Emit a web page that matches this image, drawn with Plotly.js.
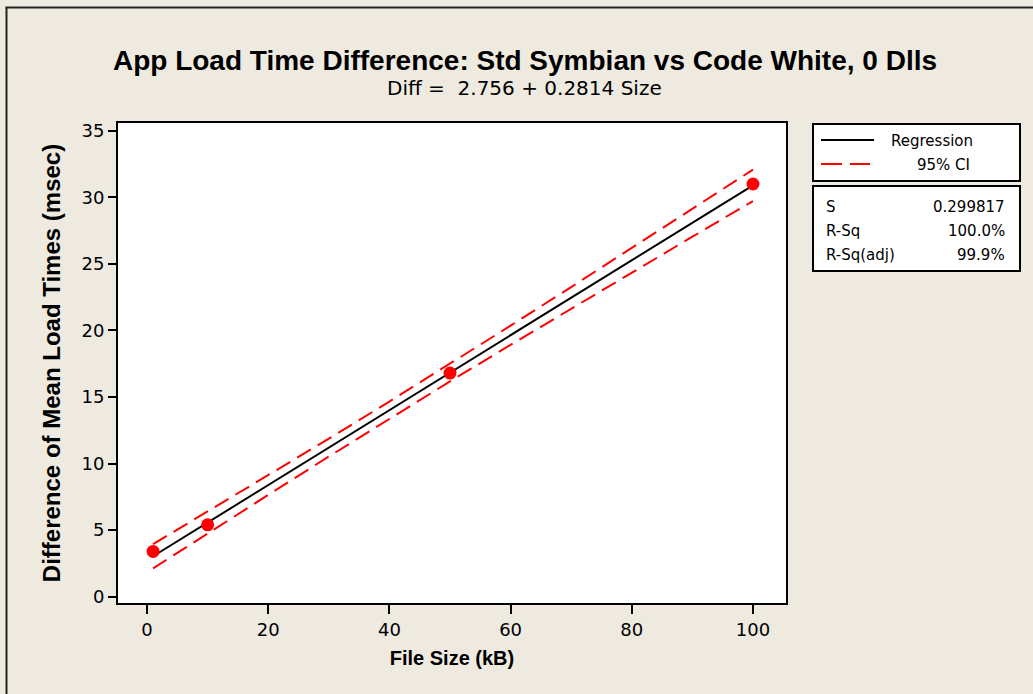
<!DOCTYPE html>
<html>
<head>
<meta charset="utf-8">
<script src="https://cdn.plot.ly/plotly-3.0.1.min.js"></script>
<style>
  html, body { margin: 0; padding: 0; background: #EEEAE0; }
  #chart { width: 1033px; height: 694px; }
</style>
</head>
<body>
<div id="chart"></div>
<script>
// Observed data points
const fileSize = [1, 10, 50, 100];
const loadDiff = [3.4, 5.4, 16.8, 31.0];

// Fitted regression line and 95% CI bands
const fitX  = [1, 10, 20, 30, 40, 50, 60, 70, 80, 90, 100];
const fitY  = [3.04, 5.57, 8.38, 11.20, 14.01, 16.83, 19.64, 22.45, 25.27, 28.08, 30.90];
const ciUp  = [3.95, 6.39, 9.11, 11.87, 14.66, 17.50, 20.36, 23.26, 26.19, 29.12, 32.08];
const ciLo  = [2.13, 4.76, 7.65, 10.53, 13.37, 16.17, 18.92, 21.64, 24.35, 27.04, 29.72];

// Tick labels
const xTicks = [0, 20, 40, 60, 80, 100];
const yTicks = [0, 5, 10, 15, 20, 25, 30, 35];

// Legend + summary box texts
const legendNames = ["Regression", "95% CI"];
const statNames = ["S", "R-Sq", "R-Sq(adj)"];
const statValues = ["0.299817", "100.0%", "99.9%"];

const W = 1033, H = 694;
const L = 118, R = 786, T = 123, B = 603;
const px = v => (v - L) / (R - L);
const py = v => (B - v) / (B - T);

const tickFont = {family: "DejaVu Sans, Tahoma, sans-serif", size: 18, color: "#000"};
const boxFont = {family: "DejaVu Sans, Tahoma, sans-serif", size: 15, color: "#000"};

const traces = [
  {x: fitX, y: ciUp, mode: "lines", line: {color: "#FF0000", width: 2, dash: "16px,8px"}, hoverinfo: "skip", showlegend: false},
  {x: fitX, y: ciLo, mode: "lines", line: {color: "#FF0000", width: 2, dash: "16px,8px"}, hoverinfo: "skip", showlegend: false},
  {x: fitX, y: fitY, mode: "lines", line: {color: "#000000", width: 2}, showlegend: false},
  {x: fileSize, y: loadDiff, mode: "markers", marker: {color: "#FF0000", size: 13}, showlegend: false}
];

const shapes = [
  // outer frame (left + top)
  {type: "line", xref: "paper", yref: "paper", x0: px(6.5), x1: px(6.5), y0: py(7.5), y1: py(700), line: {color: "#222", width: 2}},
  {type: "line", xref: "paper", yref: "paper", x0: px(5.5), x1: px(1040), y0: py(7.5), y1: py(7.5), line: {color: "#222", width: 2}},
  // legend box
  {type: "rect", xref: "paper", yref: "paper", x0: px(813), x1: px(1020), y0: py(124), y1: py(181), fillcolor: "#FFFFFF", line: {color: "#000", width: 2}},
  {type: "line", xref: "paper", yref: "paper", x0: px(821), x1: px(874), y0: py(140), y1: py(140), line: {color: "#000", width: 2}},
  {type: "line", xref: "paper", yref: "paper", x0: px(821), x1: px(870), y0: py(164), y1: py(164), line: {color: "#FF0000", width: 2, dash: "21px,8px"}},
  // stats box
  {type: "rect", xref: "paper", yref: "paper", x0: px(813), x1: px(1020), y0: py(186), y1: py(271), fillcolor: "#FFFFFF", line: {color: "#000", width: 2}}
];

const annotations = [
  {text: "Diff =  2.756 + 0.2814 Size", xref: "paper", yref: "paper", x: px(524), y: py(88), xanchor: "center", yanchor: "middle", showarrow: false,
   font: {family: "DejaVu Sans, Tahoma, sans-serif", size: 20, color: "#000"}},
  {text: legendNames[0], xref: "paper", yref: "paper", x: px(889), y: py(141), xanchor: "left", yanchor: "middle", showarrow: false, font: boxFont},
  {text: legendNames[1], xref: "paper", yref: "paper", x: px(915), y: py(165), xanchor: "left", yanchor: "middle", showarrow: false, font: boxFont}
];
const rowY = [207, 231, 255];
statNames.forEach((n, i) => {
  annotations.push({text: n, xref: "paper", yref: "paper", x: px(824), y: py(rowY[i]), xanchor: "left", yanchor: "middle", showarrow: false, font: boxFont});
  annotations.push({text: statValues[i], xref: "paper", yref: "paper", x: px(1007), y: py(rowY[i]), xanchor: "right", yanchor: "middle", showarrow: false, font: boxFont});
});

const layout = {
  width: W, height: H,
  paper_bgcolor: "#EEEAE0",
  plot_bgcolor: "#FFFFFF",
  margin: {l: L, r: W - R, t: T, b: H - B, pad: 0},
  showlegend: false,
  title: {
    text: "<b>App Load Time Difference: Std Symbian vs Code White, 0 Dlls</b>",
    xref: "container", yref: "container", x: 525 / W, y: 1 - 60 / H, xanchor: "center", yanchor: "middle",
    font: {family: "Liberation Sans, Arial, sans-serif", size: 28, color: "#000"}
  },
  xaxis: {
    range: [-4.79, 105.45], tickvals: xTicks, ticktext: xTicks.map(String),
    ticks: "outside", ticklen: 9, tickwidth: 2, tickcolor: "#000",
    showline: true, linecolor: "#000", linewidth: 2, mirror: true,
    showgrid: false, zeroline: false, tickfont: tickFont,
    title: {text: "<b>File Size (kB)</b>", standoff: 12, font: {family: "Liberation Sans, Arial, sans-serif", size: 20, color: "#000"}}
  },
  yaxis: {
    range: [-0.47, 35.58], tickvals: yTicks, ticktext: yTicks.map(String),
    ticks: "outside", ticklen: 8, tickwidth: 2, tickcolor: "#000",
    showline: true, linecolor: "#000", linewidth: 2, mirror: true,
    showgrid: false, zeroline: false, tickfont: tickFont,
    title: {text: "<b>Difference of Mean Load Times (msec)</b>", standoff: 14, font: {family: "Liberation Sans, Arial, sans-serif", size: 24, color: "#000"}}
  },
  shapes: shapes,
  annotations: annotations
};

Plotly.newPlot("chart", traces, layout, {staticPlot: true, displayModeBar: false});
</script>
</body>
</html>
